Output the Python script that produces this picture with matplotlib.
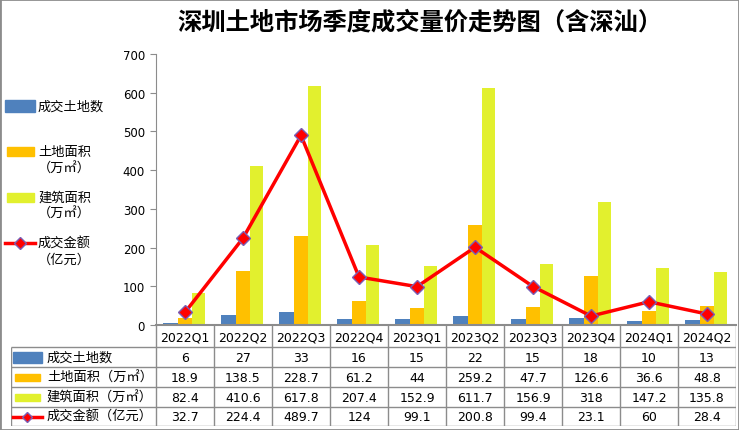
import numpy as np
import matplotlib
matplotlib.use("Agg")
import matplotlib.pyplot as plt
from matplotlib.patches import Rectangle
from matplotlib.lines import Line2D

plt.rcParams['font.family'] = ['Noto Sans CJK SC', 'DejaVu Sans']

quarters = ['2022Q1', '2022Q2', '2022Q3', '2022Q4', '2023Q1',
            '2023Q2', '2023Q3', '2023Q4', '2024Q1', '2024Q2']
land_count = [6, 27, 33, 16, 15, 22, 15, 18, 10, 13]
land_area = [18.9, 138.5, 228.7, 61.2, 44, 259.2, 47.7, 126.6, 36.6, 48.8]
build_area = [82.4, 410.6, 617.8, 207.4, 152.9, 611.7, 156.9, 318, 147.2, 135.8]
amount = [32.7, 224.4, 489.7, 124, 99.1, 200.8, 99.4, 23.1, 60, 28.4]

labels_1line = ['成交土地数', '土地面积（万㎡）', '建筑面积（万㎡）', '成交金额（亿元）']
labels_2line = ['成交土地数', '土地面积\n（万㎡）', '建筑面积\n（万㎡）', '成交金额\n（亿元）']

c_blue = '#4F81BD'
c_orange = '#FFC000'
c_yellow = '#E2F02E'
c_red = '#FF0000'
c_edge = '#7A5FB5'
c_grid = '#8C8C8C'

W, H = 739, 431
fig = plt.figure(figsize=(W / 100, H / 100), dpi=100)


def px(x0, y0, x1, y1):
    # pixel box (top-left origin) -> figure fraction rect
    return [x0 / W, 1 - y1 / H, (x1 - x0) / W, (y1 - y0) / H]


# main chart
ax = fig.add_axes(px(156, 55, 736, 326))
x = np.arange(len(quarters))
bw = 0.23
ax.bar(x - bw - 0.015, land_count, width=bw + 0.03, color=c_blue)
ax.bar(x, land_area, width=bw, color=c_orange)
ax.bar(x + bw, build_area, width=bw, color=c_yellow)
ax.plot(x, amount, color=c_red, lw=2.5, marker='D', ms=7,
        mfc=c_red, mec=c_edge, mew=1, zorder=5)
ax.set_xlim(-0.5, len(quarters) - 0.5)
ax.set_ylim(0, 700)
ax.set_yticks(range(0, 701, 100))
ax.set_xticks([])
for s in ['top', 'right']:
    ax.spines[s].set_visible(False)
ax.spines['left'].set_color(c_grid)
ax.spines['bottom'].set_color(c_grid)
ax.spines['bottom'].set_linewidth(1.5)
ax.tick_params(axis='y', length=4, color=c_grid, labelsize=8.5, pad=4)
for t in ax.get_yticklabels():
    t.set_family('DejaVu Sans')

# data table under the chart
tax = fig.add_axes(px(11, 326, 736, 427))
tax.set_xlim(-3, len(quarters) - 0.5)
tax.set_ylim(427, 326)
tax.axis('off')
rows = [326, 348, 368, 388, 408, 427]
bounds = np.arange(-0.5, len(quarters), 1.0)
tax.vlines(bounds, rows[0], rows[-1], color=c_grid, lw=1)
tax.vlines(-3, rows[1], rows[-1], color=c_grid, lw=1)
tax.hlines(rows[1:], -3, len(quarters) - 0.5, color=c_grid, lw=1)
for i, q in enumerate(quarters):
    tax.text(i, (rows[0] + rows[1]) / 2 + 1, q, ha='center', va='center',
             fontsize=9, family='DejaVu Sans')
series = [land_count, land_area, build_area, amount]
for r, vals in enumerate(series):
    yc = (rows[r + 1] + rows[r + 2]) / 2
    for i, v in enumerate(vals):
        tax.text(i, yc + 0.5, f'{v:g}', ha='center', va='center',
                 fontsize=9, family='DejaVu Sans')
    tax.text(-2.38, yc, labels_1line[r], ha='left', va='center', fontsize=9.5)

kx0, kx1 = -2.966, -2.466
tax.add_patch(Rectangle((kx0, 353), kx1 - kx0, 11, color=c_blue))
tax.add_patch(Rectangle((kx0 + 0.03, 374.5), kx1 - kx0 - 0.06, 7, color=c_orange))
tax.add_patch(Rectangle((kx0 + 0.03, 394.5), kx1 - kx0 - 0.06, 7, color=c_yellow))
tax.add_line(Line2D([kx0, kx1], [417.5, 417.5], color=c_red, lw=2.5))
tax.add_line(Line2D([(kx0 + kx1) / 2], [417.5], marker='D', ms=5,
                    mfc=c_red, mec=c_edge, mew=1))

# legend on the left
lax = fig.add_axes(px(0, 50, 150, 330))
lax.set_xlim(0, 150)
lax.set_ylim(330, 50)
lax.axis('off')
lax.add_patch(Rectangle((5, 101), 30, 12, color=c_blue))
lax.add_patch(Rectangle((7, 148), 27, 9, color=c_orange))
lax.add_patch(Rectangle((7, 194), 27, 9, color=c_yellow))
lax.add_line(Line2D([5, 35], [244, 244], color=c_red, lw=2.5))
lax.add_line(Line2D([20], [244], marker='D', ms=6, mfc=c_red, mec=c_edge, mew=1))
for yy, lab in zip([107, 153, 198, 244], labels_2line):
    parts = lab.split('\n')
    lax.text(38, yy, parts[0], ha='left', va='center', fontsize=9.5)
    if len(parts) > 1:
        lax.text(38, yy + 16, parts[1], ha='left', va='center', fontsize=9.5)

fig.text(0.568, 1 - 23 / H, '深圳土地市场季度成交量价走势图（含深汕）',
         ha='center', va='center', fontsize=17.5, fontweight='bold')

fig.patches.append(Rectangle((0, 0), 1, 1, transform=fig.transFigure,
                             fill=False, ec=c_grid, lw=2))

fig.savefig('out.png', dpi=100)
